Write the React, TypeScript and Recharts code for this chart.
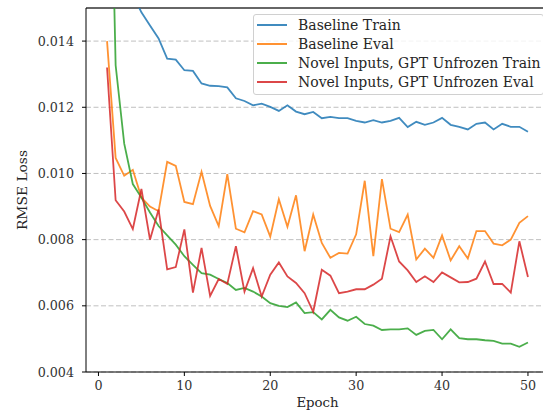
import { LineChart, Line, XAxis, YAxis, CartesianGrid, Legend, ReferenceLine } from 'recharts';

const epochs = Array.from({ length: 50 }, (_, i) => i + 1);

const baselineTrain = [
  0.0300, 0.0200, 0.0170, 0.01540, 0.01487, 0.01447, 0.01408, 0.01347, 0.01344, 0.01312,
  0.01310, 0.01272, 0.01265, 0.01264, 0.01260, 0.01227, 0.01219, 0.01206, 0.01211, 0.01201,
  0.01189, 0.01206, 0.01187, 0.01179, 0.01186, 0.01167, 0.01171, 0.01167, 0.01167, 0.01159,
  0.01154, 0.01161, 0.01154, 0.01159, 0.01168, 0.01140, 0.01156, 0.01147, 0.01154, 0.01168,
  0.01147, 0.01141, 0.01133, 0.01150, 0.01154, 0.01133, 0.01150, 0.01141, 0.01141, 0.01126,
];

const baselineEval = [
  0.01400, 0.01047, 0.00993, 0.01011, 0.00927, 0.00900, 0.00886, 0.01035, 0.01023, 0.00914,
  0.00907, 0.01005, 0.00902, 0.00841, 0.00998, 0.00833, 0.00822, 0.00886, 0.00876, 0.00809,
  0.00922, 0.00839, 0.00934, 0.00765, 0.00876, 0.00790, 0.00745, 0.00760, 0.00758, 0.00816,
  0.00978, 0.00750, 0.00983, 0.00833, 0.00823, 0.00876, 0.00740, 0.00773, 0.00745, 0.00813,
  0.00737, 0.00780, 0.00743, 0.00826, 0.00826, 0.00788, 0.00783, 0.00800, 0.00851, 0.00871,
];

const novelTrain = [
  0.02500, 0.01327, 0.01090, 0.00968, 0.00927, 0.00882, 0.00841, 0.00813, 0.00785, 0.00750,
  0.00724, 0.00699, 0.00694, 0.00681, 0.00669, 0.00648, 0.00654, 0.00643, 0.00628, 0.00608,
  0.00600, 0.00596, 0.00610, 0.00578, 0.00581, 0.00559, 0.00588, 0.00565, 0.00555, 0.00567,
  0.00545, 0.00540, 0.00527, 0.00529, 0.00529, 0.00532, 0.00512, 0.00524, 0.00527, 0.00499,
  0.00529, 0.00502, 0.00499, 0.00499, 0.00496, 0.00494, 0.00486, 0.00486, 0.00476, 0.00489,
];

const novelEval = [
  0.01320, 0.00919, 0.00885, 0.00832, 0.00953, 0.00800, 0.00891, 0.00710, 0.00717, 0.00831,
  0.00640, 0.00775, 0.00630, 0.00681, 0.00666, 0.00780, 0.00643, 0.00714, 0.00628, 0.00694,
  0.00731, 0.00689, 0.00669, 0.00638, 0.00582, 0.00709, 0.00691, 0.00638, 0.00643, 0.00650,
  0.00650, 0.00664, 0.00682, 0.00810, 0.00734, 0.00707, 0.00672, 0.00689, 0.00672, 0.00701,
  0.00686, 0.00671, 0.00672, 0.00682, 0.00734, 0.00666, 0.00666, 0.00640, 0.00795, 0.00687,
];

const xTicks = [0, 10, 20, 30, 40, 50];
const yTicks = [0.004, 0.006, 0.008, 0.01, 0.012, 0.014];

const series = [
  { key: 'baselineTrain', name: 'Baseline Train', color: '#1f77b4' },
  { key: 'baselineEval', name: 'Baseline Eval', color: '#ff7f0e' },
  { key: 'novelTrain', name: 'Novel Inputs, GPT Unfrozen Train', color: '#2ca02c' },
  { key: 'novelEval', name: 'Novel Inputs, GPT Unfrozen Eval', color: '#d62728' },
];

const data = epochs.map((epoch, i) => ({
  epoch,
  baselineTrain: baselineTrain[i],
  baselineEval: baselineEval[i],
  novelTrain: novelTrain[i],
  novelEval: novelEval[i],
}));

const FONT = "'DejaVu Serif', serif";

const LegendBox = () => (
  <div
    style={{
      background: 'rgba(255,255,255,0.8)',
      border: '1px solid #d0d0d0',
      borderRadius: 3,
      padding: '0 2px 3px 3px',
      fontFamily: FONT,
      fontSize: 14,
      color: '#262626',
    }}
  >
    {series.map(s => (
      <div key={s.key} style={{ display: 'flex', alignItems: 'center', height: 19 }}>
        <svg width={30} height={4} style={{ marginRight: 11, flexShrink: 0 }}>
          <line x1={0} y1={2} x2={30} y2={2} stroke={s.color} strokeOpacity={0.85} strokeWidth={2} />
        </svg>
        <span style={{ whiteSpace: 'nowrap' }}>{s.name}</span>
      </div>
    ))}
  </div>
);

export default function App() {
  return (
    <div style={{ position: 'absolute', left: 0, top: 0, width: 543, height: 413, overflow: 'hidden', background: '#fff' }}>
      <LineChart width={560} height={413} data={data} margin={{ top: 8, right: 11, bottom: 0, left: 20 }}>
        <CartesianGrid vertical={false} stroke="#b0b0b0" strokeDasharray="5 2.5" strokeWidth={0.8} />
        <XAxis
          type="number"
          dataKey="epoch"
          domain={[-1.45, 52.45]}
          ticks={xTicks}
          allowDataOverflow
          height={41}
          tickSize={4}
          tickMargin={5}
          stroke="#000"
          tick={{ fill: '#333', fontSize: 12.7, fontFamily: FONT }}
          label={{ value: 'Epoch', position: 'insideBottom', offset: 6, fill: '#262626', fontSize: 13.3, fontFamily: FONT }}
        />
        <YAxis
          type="number"
          domain={[0.004, 0.015]}
          ticks={yTicks}
          allowDataOverflow
          width={66}
          tickSize={4}
          tickMargin={8}
          stroke="#000"
          tickFormatter={(v: number) => v.toFixed(3)}
          tick={{ fill: '#333', fontSize: 12.7, fontFamily: FONT }}
          label={{
            value: 'RMSE Loss', angle: -90, position: 'insideLeft', offset: 2,
            fill: '#262626', fontSize: 13.8, fontFamily: FONT, style: { textAnchor: 'middle' },
          }}
        />
        <ReferenceLine y={0.015} stroke="#666" strokeWidth={2} />
        {series.map(s => (
          <Line
            key={s.key}
            type="linear"
            dataKey={s.key}
            name={s.name}
            stroke={s.color}
            strokeOpacity={0.85}
            strokeWidth={1.8}
            dot={false}
            isAnimationActive={false}
          />
        ))}
        <Legend
          layout="vertical"
          align="center"
          verticalAlign="middle"
          content={<LegendBox />}
          wrapperStyle={{ left: 253, top: 14, width: 'auto' }}
        />
      </LineChart>
    </div>
  );
}
